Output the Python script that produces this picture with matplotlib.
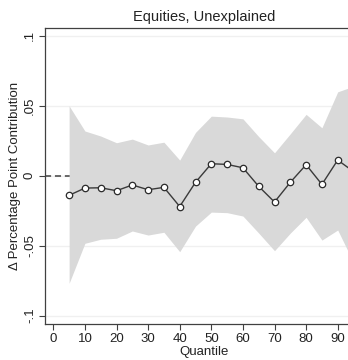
import matplotlib
matplotlib.use("Agg")
import matplotlib.pyplot as plt

quantiles = [5, 10, 15, 20, 25, 30, 35, 40, 45, 50, 55, 60, 65, 70, 75, 80, 85, 90, 95]
estimate = [-0.014, -0.0088, -0.0086, -0.0107, -0.0066, -0.010, -0.0083, -0.022, -0.0047,
            0.0086, 0.0081, 0.0057, -0.0076, -0.0188, -0.0047, 0.0079, -0.0062, 0.0112, 0.003]
upper = [0.050, 0.032, 0.0284, 0.0236, 0.0262, 0.022, 0.024, 0.0112, 0.031,
         0.0426, 0.042, 0.0407, 0.028, 0.0164, 0.030, 0.0439, 0.0343, 0.060, 0.064]
lower = [-0.0769, -0.0483, -0.0454, -0.0447, -0.0395, -0.0424, -0.0404, -0.0543, -0.036,
         -0.026, -0.0264, -0.0288, -0.041, -0.0536, -0.041, -0.0297, -0.046, -0.0388, -0.062]
yticks = [-0.1, -0.05, 0, 0.05, 0.1]
ytick_labels = ["-.1", "-.05", "0", ".05", ".1"]
xticks = [0, 10, 20, 30, 40, 50, 60, 70, 80, 90]
title = "Equities, Unexplained"
xlabel = "Quantile"
ylabel = "Δ Percentage Point Contribution"

plt.rcParams['font.family'] = ['Liberation Sans', 'DejaVu Sans']

W, H = 348, 360
fig = plt.figure(figsize=(W / 100, H / 100), dpi=100)
xmin, xmax = -2.63, 102.63
px_per_unit = 3.16
left_px = 45
right_px = left_px + (xmax - xmin) * px_per_unit
ax = fig.add_axes([left_px / W, 36 / H, (right_px - left_px) / W, (332.5 - 36) / H])

ax.set_xlim(xmin, xmax)
ax.set_ylim(-0.106, 0.106)

for y in yticks:
    ax.axhline(y, color='#f0f0f0', lw=1.0, zorder=0)
ax.axhline(0, color='#404040', lw=1.1, dashes=(4, 2.5), zorder=1)

ax.fill_between(quantiles, lower, upper, color='#d9d9d9', lw=0, zorder=2)
ax.plot(quantiles, estimate, color='#3a3a3a', lw=1.0, marker='o', markersize=4.6,
        markerfacecolor='white', markeredgecolor='#2a2a2a', markeredgewidth=0.9, zorder=3)

ax.set_yticks(yticks)
ax.set_yticklabels(ytick_labels, rotation=90, va='center')
ax.set_xticks(xticks)
ax.tick_params(axis='both', direction='out', length=4, width=0.8, color='#404040',
               labelsize=9.5, labelcolor='#222222', pad=2.5)

for s in ['left', 'bottom', 'top']:
    ax.spines[s].set_color('#404040')
    ax.spines[s].set_linewidth(0.9)
ax.spines['right'].set_visible(False)

fig.text(204 / W, 1 - 17 / H, title, ha='center', va='center',
         fontsize=10.5, color='#222222')
fig.text(204 / W, 1 - 355.5 / H, xlabel, ha='center', va='baseline', fontsize=9.5, color='#222222')
fig.text(15 / W, 1 - 176 / H, ylabel, ha='center', va='center', rotation=90,
         fontsize=9.5, color='#222222')

fig.savefig('out.png', dpi=100)
